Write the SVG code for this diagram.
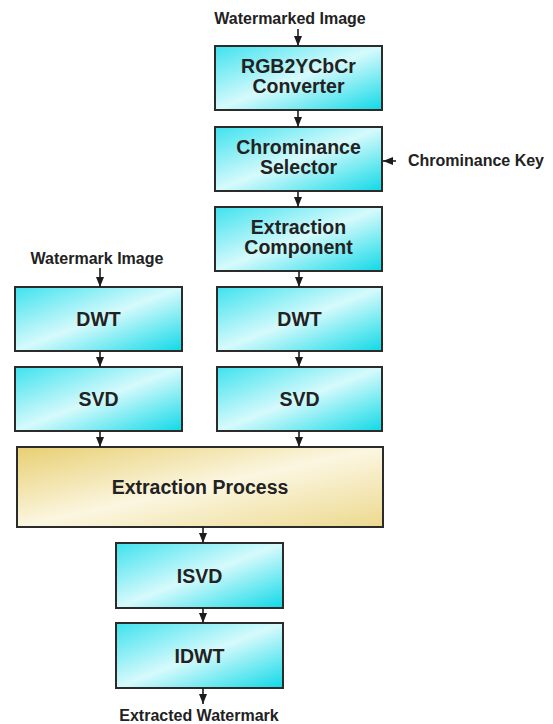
<svg xmlns="http://www.w3.org/2000/svg" width="553" height="724" viewBox="0 0 553 724">
  <style>
    .box { stroke: #2b2b2b; stroke-width: 2; }
    .cyan { fill: url(#gCyan); }
    .cream { fill: url(#gCream); }
    .t { font-family: "Liberation Sans", Arial, sans-serif; font-weight: bold; fill: #222; text-anchor: middle; }
    .bt { font-size: 19.5px; }
    .lt { font-size: 16px; }
    .wire { stroke: #1c1c1c; stroke-width: 1.6; fill: none; marker-end: url(#head); }
  </style>
  <defs>
    <linearGradient id="gCyan" x1="0" y1="0" x2="1" y2="1">
      <stop offset="0" stop-color="#3ee2ee"/>
      <stop offset="0.5" stop-color="#d6fafc"/>
      <stop offset="1" stop-color="#10d9e7"/>
    </linearGradient>
    <linearGradient id="gCream" x1="0" y1="0" x2="1" y2="1">
      <stop offset="0" stop-color="#e8cf72"/>
      <stop offset="0.5" stop-color="#fbf6e0"/>
      <stop offset="1" stop-color="#ecd98e"/>
    </linearGradient>
    <marker id="head" viewBox="0 0 10 8" refX="10" refY="4" markerWidth="6.5" markerHeight="5.2" markerUnits="strokeWidth" orient="auto">
      <path d="M0,0 L10,4 L0,8 Z" fill="#1c1c1c"/>
    </marker>
  </defs>

  <!-- free-standing labels -->
  <text class="t lt" x="290" y="24">Watermarked Image</text>
  <text class="t lt" x="97" y="264">Watermark Image</text>
  <text class="t lt" x="476" y="166">Chrominance Key</text>
  <text class="t lt" x="199" y="721">Extracted Watermark</text>

  <!-- right column -->
  <g id="rgb2ycbcr">
    <rect class="box cyan" x="215" y="46" width="167" height="64"/>
    <text class="t bt" x="298.5" y="73">RGB2YCbCr</text>
    <text class="t bt" x="298.5" y="93">Converter</text>
  </g>
  <g id="chrominance-selector">
    <rect class="box cyan" x="215" y="127" width="167" height="64"/>
    <text class="t bt" x="298.5" y="154">Chrominance</text>
    <text class="t bt" x="298.5" y="174">Selector</text>
  </g>
  <g id="extraction-component">
    <rect class="box cyan" x="215" y="207" width="167" height="64"/>
    <text class="t bt" x="298.5" y="234">Extraction</text>
    <text class="t bt" x="298.5" y="254">Component</text>
  </g>
  <g id="dwt-right">
    <rect class="box cyan" x="217" y="287" width="165" height="64"/>
    <text class="t bt" x="299.5" y="326">DWT</text>
  </g>
  <g id="svd-right">
    <rect class="box cyan" x="217" y="367" width="165" height="64"/>
    <text class="t bt" x="299.5" y="406">SVD</text>
  </g>

  <!-- left column -->
  <g id="dwt-left">
    <rect class="box cyan" x="15" y="287" width="167" height="64"/>
    <text class="t bt" x="98.5" y="326">DWT</text>
  </g>
  <g id="svd-left">
    <rect class="box cyan" x="15" y="367" width="167" height="64"/>
    <text class="t bt" x="98.5" y="406">SVD</text>
  </g>

  <!-- merge and inverse stages -->
  <g id="extraction-process">
    <rect class="box cream" x="17" y="447" width="366" height="80"/>
    <text class="t bt" x="200" y="494">Extraction Process</text>
  </g>
  <g id="isvd">
    <rect class="box cyan" x="116" y="543" width="167" height="65"/>
    <text class="t bt" x="199.5" y="583">ISVD</text>
  </g>
  <g id="idwt">
    <rect class="box cyan" x="116" y="623" width="167" height="65"/>
    <text class="t bt" x="199.5" y="663">IDWT</text>
  </g>

  <g id="connectors">
    <line class="wire" x1="298" y1="29" x2="298" y2="46"/>
    <line class="wire" x1="298" y1="110" x2="298" y2="127"/>
    <line class="wire" x1="298" y1="191" x2="298" y2="207"/>
    <line class="wire" x1="299" y1="271" x2="299" y2="287"/>
    <line class="wire" x1="299" y1="351" x2="299" y2="367"/>
    <line class="wire" x1="299" y1="431" x2="299" y2="447"/>
    <line class="wire" x1="100" y1="268" x2="100" y2="287"/>
    <line class="wire" x1="100" y1="351" x2="100" y2="367"/>
    <line class="wire" x1="100" y1="431" x2="100" y2="447"/>
    <line class="wire" x1="396" y1="161" x2="383" y2="161"/>
    <line class="wire" x1="203" y1="527" x2="203" y2="543"/>
    <line class="wire" x1="203" y1="608" x2="203" y2="623"/>
    <line class="wire" x1="203" y1="688" x2="203" y2="704"/>
  </g>
</svg>
